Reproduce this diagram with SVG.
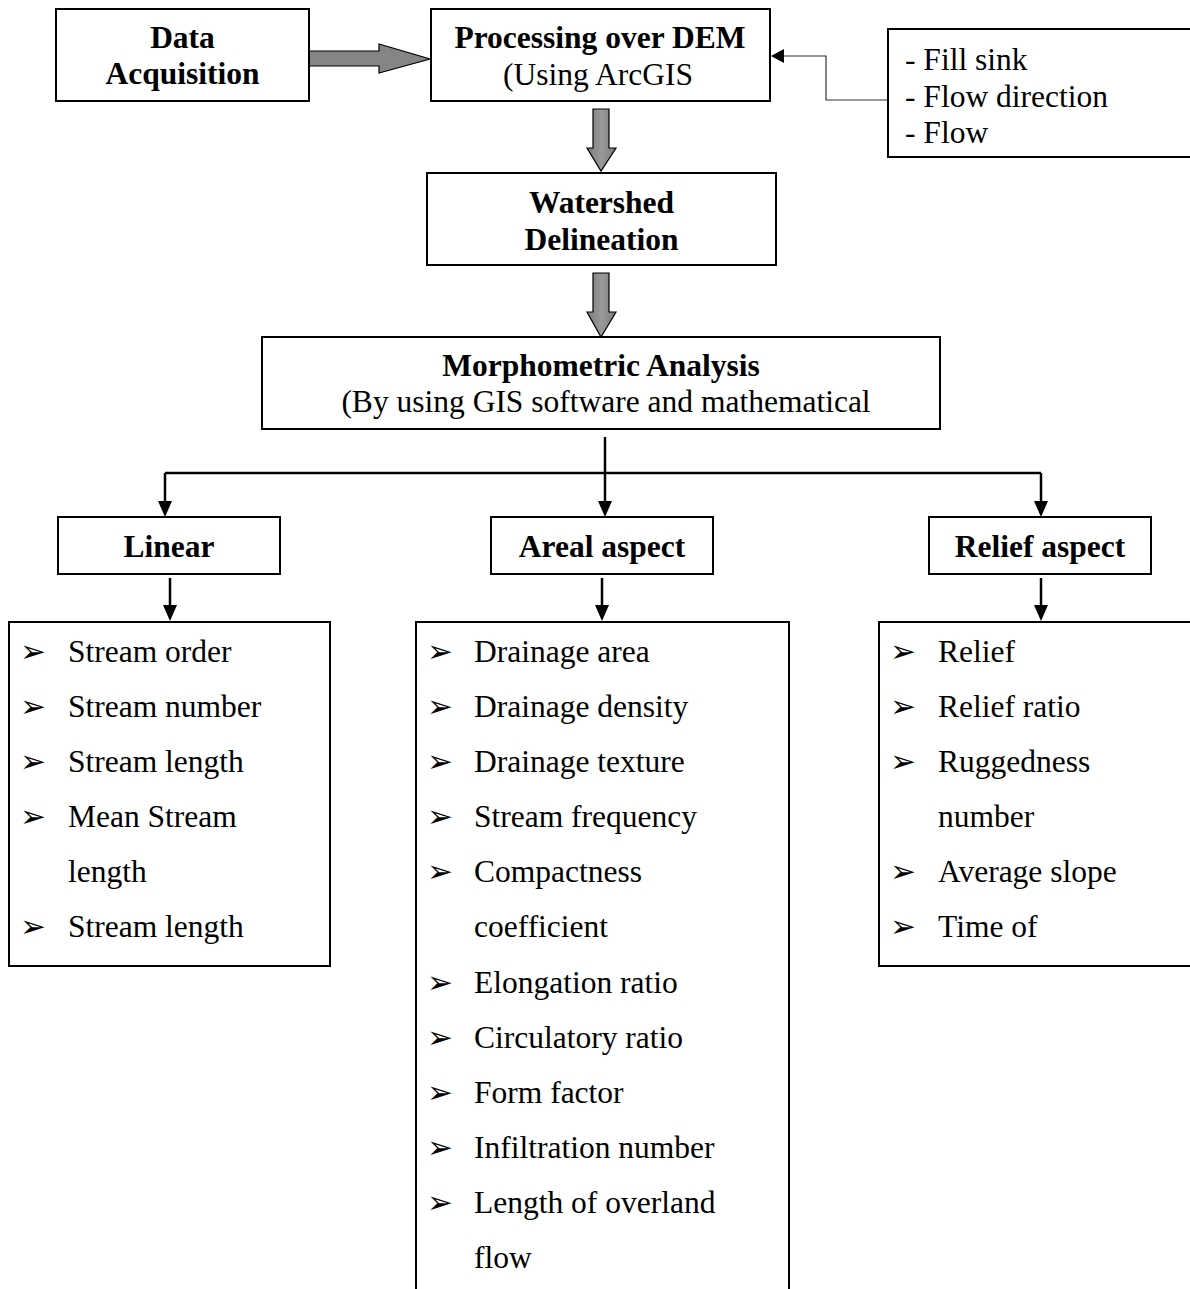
<svg xmlns="http://www.w3.org/2000/svg" width="1190" height="1289" viewBox="0 0 1190 1289">
<style>
.box{fill:#fff;stroke:#000;stroke-width:2}
.hd{font-family:"Liberation Serif","Times New Roman",serif;font-weight:bold;font-size:31.5px;text-anchor:middle;fill:#000}
.tx{font-family:"Liberation Serif","Times New Roman",serif;font-size:31.5px;fill:#000}
.bl{font-family:"DejaVu Sans",sans-serif;font-size:31px;fill:#000}
.fat{fill:#858585;stroke:#000;stroke-width:1.2}
.ln{stroke:#000;stroke-width:2.5;fill:none}
.thin{stroke:#333;stroke-width:1.2;fill:none}
</style>
<defs>
<linearGradient id="g" x1="0" y1="0" x2="1" y2="0">
<stop offset="0" stop-color="#7a7a7a"/><stop offset="0.5" stop-color="#999"/><stop offset="1" stop-color="#7a7a7a"/>
</linearGradient>
</defs>
<rect width="1190" height="1289" fill="#fff"/>

<g id="connectors">
<path class="fat" d="M309,51 H379 V44 L430,59 L379,73 V66 H309 z"/>
<path class="fat" style="fill:url(#g)" d="M593,109 H609 V148 H616 L601,171 L587,148 H593 z"/>
<path class="fat" style="fill:url(#g)" d="M593,273 H609 V312 H616 L601,337 L587,312 H593 z"/>
<path d="M888,100 H826 V56 H772" class="thin"/>
<path d="M771,56 L784,49 L784,63 z" fill="#000"/>
<path class="ln" d="M605,437 V473"/>
<path class="ln" d="M165,473 H1041"/>
<path class="ln" d="M165,473 V503"/>
<path d="M158,501 L165,517 L172,501 z" fill="#000"/>
<path class="ln" d="M605,473 V503"/>
<path d="M598,501 L605,517 L612,501 z" fill="#000"/>
<path class="ln" d="M1041,473 V503"/>
<path d="M1034,501 L1041,517 L1048,501 z" fill="#000"/>
<path class="ln" d="M170,578 V607"/>
<path d="M163,605 L170,621 L177,605 z" fill="#000"/>
<path class="ln" d="M602,578 V607"/>
<path d="M595,605 L602,621 L609,605 z" fill="#000"/>
<path class="ln" d="M1041,578 V607"/>
<path d="M1034,605 L1041,621 L1048,605 z" fill="#000"/>
</g>

<g id="data-acquisition">
<rect class="box" x="56" y="9" width="253" height="92"/>
<text class="hd" x="182.5" y="48">Data</text>
<text class="hd" x="182.5" y="84">Acquisition</text>
</g>

<g id="processing">
<rect class="box" x="431" y="9" width="339" height="92"/>
<text class="hd" x="600" y="48">Processing over DEM</text>
<text class="tx" x="598" y="85" text-anchor="middle">(Using ArcGIS</text>
</g>

<g id="tools">
<rect class="box" x="888" y="29" width="310" height="128"/>
<text class="tx" x="905" y="70">- Fill sink</text>
<text class="tx" x="905" y="107">- Flow direction</text>
<text class="tx" x="905" y="143">- Flow</text>
</g>

<g id="watershed">
<rect class="box" x="427" y="173" width="349" height="92"/>
<text class="hd" x="601.5" y="213">Watershed</text>
<text class="hd" x="601.5" y="250">Delineation</text>
</g>

<g id="morphometric">
<rect class="box" x="262" y="337" width="678" height="92"/>
<text class="hd" x="601" y="376">Morphometric Analysis</text>
<text class="tx" x="606" y="412" text-anchor="middle">(By using GIS software and mathematical</text>
</g>

<g id="linear">
<rect class="box" x="58" y="517" width="222" height="57"/>
<text class="hd" x="169" y="557">Linear</text>
</g>

<g id="areal">
<rect class="box" x="491" y="517" width="222" height="57"/>
<text class="hd" x="602" y="557">Areal aspect</text>
</g>

<g id="relief">
<rect class="box" x="929" y="517" width="222" height="57"/>
<text class="hd" x="1040" y="557">Relief aspect</text>
</g>

<g id="linear-list">
<rect class="box" x="9" y="622" width="321" height="344"/>
<text class="bl" x="20" y="662">➢</text><text class="tx" x="68" y="662">Stream order</text>
<text class="bl" x="20" y="717">➢</text><text class="tx" x="68" y="717">Stream number</text>
<text class="bl" x="20" y="772">➢</text><text class="tx" x="68" y="772">Stream length</text>
<text class="bl" x="20" y="827">➢</text><text class="tx" x="68" y="827">Mean Stream</text>
<text class="tx" x="68" y="882">length</text>
<text class="bl" x="20" y="937">➢</text><text class="tx" x="68" y="937">Stream length</text>
</g>

<g id="areal-list">
<rect class="box" x="416" y="622" width="373" height="700"/>
<text class="bl" x="427" y="662">➢</text><text class="tx" x="474" y="662">Drainage area</text>
<text class="bl" x="427" y="717">➢</text><text class="tx" x="474" y="717">Drainage density</text>
<text class="bl" x="427" y="772">➢</text><text class="tx" x="474" y="772">Drainage texture</text>
<text class="bl" x="427" y="827">➢</text><text class="tx" x="474" y="827">Stream frequency</text>
<text class="bl" x="427" y="882">➢</text><text class="tx" x="474" y="882">Compactness</text>
<text class="tx" x="474" y="937">coefficient</text>
<text class="bl" x="427" y="993">➢</text><text class="tx" x="474" y="993">Elongation ratio</text>
<text class="bl" x="427" y="1048">➢</text><text class="tx" x="474" y="1048">Circulatory ratio</text>
<text class="bl" x="427" y="1103">➢</text><text class="tx" x="474" y="1103">Form factor</text>
<text class="bl" x="427" y="1158">➢</text><text class="tx" x="474" y="1158">Infiltration number</text>
<text class="bl" x="427" y="1213">➢</text><text class="tx" x="474" y="1213">Length of overland</text>
<text class="tx" x="474" y="1268">flow</text>
</g>

<g id="relief-list">
<rect class="box" x="879" y="622" width="320" height="344"/>
<text class="bl" x="890" y="662">➢</text><text class="tx" x="938" y="662">Relief</text>
<text class="bl" x="890" y="717">➢</text><text class="tx" x="938" y="717">Relief ratio</text>
<text class="bl" x="890" y="772">➢</text><text class="tx" x="938" y="772">Ruggedness</text>
<text class="tx" x="938" y="827">number</text>
<text class="bl" x="890" y="882">➢</text><text class="tx" x="938" y="882">Average slope</text>
<text class="bl" x="890" y="937">➢</text><text class="tx" x="938" y="937">Time of</text>
</g>
</svg>
